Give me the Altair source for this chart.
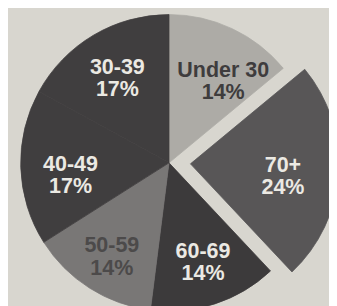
import altair as alt
import pandas as pd

categories = ["Under 30", "70+", "60-69", "50-59", "40-49", "30-39"]
values = [14, 24, 14, 14, 17, 17]
fill_colors = ["#adaba6", "#585657", "#3c3a3b", "#797776", "#403e3f", "#403e3f"]
text_colors = ["#3e3c3d", "#ebe9e3", "#ebe9e3", "#4c4a4a", "#ebe9e3", "#ebe9e3"]
exploded = "70+"

df = pd.DataFrame({
    "category": categories,
    "value": values,
    "order": list(range(len(categories))),
    "label": [f"{c}\n{v}%" for c, v in zip(categories, values)],
})

# small label nudges (style), in pixels
label_nudge = {
    "Under 30": (13, -5),
    "70+": (-5, -5),
    "60-69": (4, -5),
    "50-59": (-5, 0),
    "40-49": (-1, -2),
    "30-39": (-2, -12),
}

theta_scale = alt.Scale(domain=[0, 100], range=[0, 6.283185307179586])
fill_scale = alt.Scale(domain=categories, range=fill_colors)
text_scale = alt.Scale(domain=categories, range=text_colors)

cx, cy = 165, 155
R = 152
explode_dx, explode_dy = 22, 1

base = alt.Chart(df).transform_window(
    end="sum(value)", sort=[alt.SortField("order")], frame=[None, 0]
).transform_calculate(
    start="datum.end - datum.value",
    mid="datum.end - datum.value / 2",
)

def arcs(pred, dx=0, dy=0):
    return base.transform_filter(pred).mark_arc(
        outerRadius=R, strokeWidth=0.8, xOffset=dx, yOffset=dy
    ).encode(
        theta=alt.Theta("start:Q", scale=theta_scale),
        theta2="end:Q",
        fill=alt.Fill("category:N", scale=fill_scale, legend=None),
        stroke=alt.Stroke("category:N", scale=fill_scale, legend=None),
        x=alt.value(cx),
        y=alt.value(cy),
    )

def label(cat):
    ndx, ndy = label_nudge[cat]
    if cat == exploded:
        ndx += explode_dx
        ndy += explode_dy
    return base.transform_filter(f"datum.category == '{cat}'").mark_text(
        radius=100, font="Liberation Sans", fontWeight="bold", fontSize=22,
        lineBreak="\n", lineHeight=23, align="center", baseline="middle",
        xOffset=ndx, yOffset=ndy,
    ).encode(
        theta=alt.Theta("mid:Q", scale=theta_scale),
        text="label:N",
        color=alt.Color("category:N", scale=text_scale, legend=None),
        x=alt.value(cx),
        y=alt.value(cy),
    )

not_exp = f"datum.category != '{exploded}'"
is_exp = f"datum.category == '{exploded}'"

chart = alt.layer(
    arcs(not_exp),
    arcs(is_exp, explode_dx, explode_dy),
    *[label(c) for c in categories],
).resolve_scale(color="independent").properties(
    width=329, height=298,
    autosize=alt.AutoSizeParams(type="none"),
    padding=0,
    background="#d8d6cf",
).configure_view(stroke=None)

chart.save("out.html", embed_options={"renderer": "svg", "actions": False})
